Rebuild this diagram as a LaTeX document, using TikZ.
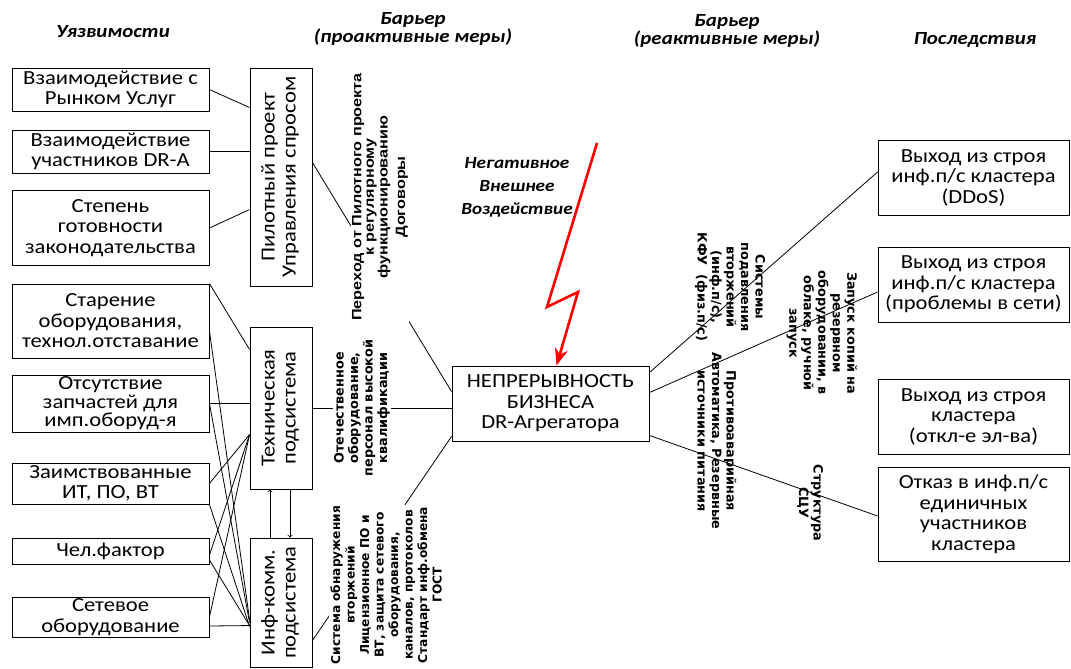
\documentclass[tikz,border=0pt]{standalone}
\usepackage{fontspec}
\setmainfont{Carlito}[FakeStretch=1.13]
\newfontfamily\arialfont{Liberation Sans}[FakeStretch=1.2]
\newfontfamily\dejafont{DejaVu Sans}
\usetikzlibrary{arrows.meta}
\usetikzlibrary{calc}
\tikzstyle{vuln} = [rectangle, draw=black, line width=0.9pt, minimum width=197pt,
                    inner sep=0pt, align=center, font=\fontsize{20}{20.5}\selectfont]
\tikzstyle{subsys} = [rectangle, draw=black, line width=0.9pt, minimum width=62pt,
                      inner sep=0pt, font=\fontsize{20}{21}\selectfont]
\tikzstyle{core} = [rectangle, draw=black, line width=0.9pt, minimum width=197pt,
                    minimum height=75pt, inner sep=0pt, align=center, font=\fontsize{20}{20.5}\selectfont]
\tikzstyle{cons} = [rectangle, draw=black, line width=0.9pt, minimum width=191pt,
                    inner sep=0pt, align=center, font=\fontsize{20}{20.5}\selectfont]
\tikzstyle{head} = [align=center, inner sep=0pt, font=\fontsize{18.5}{18}\selectfont\bfseries\itshape]
\tikzstyle{measure} = [align=center, inner sep=1pt, font=\dejafont\bfseries\fontsize{12.8}{14.5}\selectfont]
\tikzstyle{measurea} = [align=center, inner sep=1pt, font=\arialfont\bfseries\fontsize{13.5}{12.5}\selectfont]
\tikzstyle{link} = [line width=0.8pt]
\newcommand{\uptext}[1]{\rotatebox{90}{\begin{tabular}{@{}c@{}}#1\end{tabular}}}

\begin{document}
\begin{tikzpicture}[x=1pt,y=-1pt]
    \useasboundingbox (0,0) rectangle (1071,669);
    % column heads
    \node[head] (hvuln) at (113,32) {Уязвимости};
    \node[head] (hpro) at (413,29) {Барьер\\(проактивные меры)};
    \node[head] (hre) at (727,31) {Барьер\\(реактивные меры)};
    \node[head] (hcons) at (975,40) {Последствия};
    % vulnerabilities
    \node[vuln, minimum height=43pt] (market) at (110.5,89.5) {Взаимодействие с\\Рынком Услуг};
    \node[vuln, minimum height=43pt] (members) [below of=market,node distance=62pt] {Взаимодействие\\участников DR-A};
    \node[vuln, minimum height=75pt] (law) [below of=members,node distance=76.5pt] {Степень\\готовности\\законодательства};
    \node[vuln, minimum height=74pt] (aging) [below of=law,node distance=93pt] {Старение\\оборудования,\\технол.отставание};
    \node[vuln, minimum height=57pt, font=\fontsize{20}{18.5}\selectfont] (parts) [below of=aging,node distance=82.5pt] {Отсутствие\\запчастей для\\имп.оборуд-я};
    \node[vuln, minimum height=41pt] (borrowed) [below of=parts,node distance=80pt] {Заимствованные\\ИТ, ПО, ВТ};
    \node[vuln, minimum height=26pt] (human) [below of=borrowed,node distance=67.5pt] {Чел.фактор};
    \node[vuln, minimum height=40pt] (network) [below of=human,node distance=66pt] {Сетевое\\оборудование};
    % subsystems
    \node[subsys, minimum height=218pt] (pilot) at (281,177) {\uptext{Пилотный проект\\Управления спросом}};
    \node[subsys, minimum height=162pt] (tech) [below of=pilot,node distance=231pt] {\uptext{Техническая\\подсистема}};
    \node[subsys, minimum height=129pt] (ict) [below of=tech,node distance=194.5pt] {\uptext{Инф-комм.\\подсистема}};
    % business continuity
    \node[core] (cont) at (550.5,403.5) {НЕПРЕРЫВНОСТЬ\\БИЗНЕСА\\DR-Агрегатора};
    % consequences
    \node[cons, minimum height=75pt] (ddos) at (973.5,177.5) {Выход из строя\\инф.п/с кластера\\(DDoS)};
    \node[cons, minimum height=75pt] (netfail) [below of=ddos,node distance=107pt] {Выход из строя\\инф.п/с кластера\\(проблемы в сети)};
    \node[cons, minimum height=75pt] (power) [below of=netfail,node distance=132pt] {Выход из строя\\кластера\\(откл-е эл-ва)};
    \node[cons, minimum height=94pt] (single) [below of=power,node distance=97.5pt] {Отказ в инф.п/с\\единичных\\участников\\кластера};

    % vulnerabilities -> subsystems
    \draw[link] (market.east) -- ($(pilot.north west)+(0,40)$);
    \draw[link] (members.east) -- (members.east -| pilot.west);
    \draw[link] (law.east) -- ($(pilot.north west)+(0,142)$);
    \draw[link] (aging.north east) -- ($(tech.north west)+(0,23)$);
    \draw[link] ($(aging.east)+(0,10)$) -- ($(ict.north west)+(0,82)$);
    \draw[link] (parts.east) -- (parts.east -| tech.west);
    \draw[link] (parts.east) -- ($(ict.north west)+(0,85)$);
    \draw[link] (borrowed.east) -- ($(tech.north west)+(0,108)$);
    \draw[link] (borrowed.south east) -- ($(ict.north west)+(0,89)$);
    \draw[link] ($(human.east)+(0,4)$) -- ($(tech.north west)+(0,108)$);
    \draw[link] ($(human.east)+(0,9)$) -- ($(ict.north west)+(0,88)$);
    \draw[link] (network.east) -- ($(tech.north west)+(0,108)$);
    \draw[link] ($(network.east)+(0,9)$) -- ($(ict.north west)+(0,88)$);
    \draw[link,-to] ($(ict.north)+(-11,0)$) -- ($(tech.south)+(-11,0)$);
    \draw[link,-to] ($(tech.south)+(9,0)$) -- ($(ict.north)+(9,0)$);

    % proactive barriers
    \draw[link] ($(pilot.north east)+(0,95)$) -- ($(cont.north west)+(0,26)$);
    \draw[link] (tech.east) -- (tech.east -| cont.west);
    \draw[link] ($(ict.south east)+(0,-27)$) -- ($(cont.south west)+(0,-5)$);
    \node[measurea, rotate=90, fill=white] (transfer) at (380,197) {Переход от Пилотного проекта\\к регулярному\\функционированию\\[5pt]Договоры};
    \node[measure, rotate=90, fill=white] (domestic) at (362,408) {Отечественное\\оборудование,\\персонал высокой\\квалификации};
    \node[measure, rotate=90, fill=white, font=\dejafont\bfseries\fontsize{12.2}{14.5}\selectfont] (detect) at (386,585) {Система обнаружения\\вторжений\\Лицензионное ПО и\\ВТ, защита сетевого\\оборудования,\\каналов, протоколов\\Стандарт инф.обмена\\ГОСТ};

    % reactive barriers
    \draw[link] ($(cont.east)+(0,9.5)$) -- ($(cont.east)+(0,9.5)$ -| power.west);
    \node[measure, rotate=-90, fill=white] (backup) at (822,333) {Запуск копий на\\резервном\\оборудовании, в\\облаке, ручной\\запуск};
    \draw[link] ($(cont.north east)+(0,7)$) -- ($(ddos.west)+(0,-5.5)$);
    \draw[link] ($(cont.north east)+(0,27)$) -- ($(netfail.west)+(0,7.5)$);
    \draw[link] ($(cont.south east)+(0,-6)$) -- ($(single.west)+(0,2)$);
    \node[measure, rotate=-90] (suppress) at (730,287) {Системы\\подавления\\вторжений\\(инф.п/с),\\КФУ\ \ (физ.п/с)};
    \node[measure, rotate=-90] (emergency) at (717,441) {Противоаварийная\\Автоматика, Резервные\\источники питания};
    \node[measure, rotate=-90] (scu) at (810,503) {Структура\\СЦУ};

    % external impact
    \node[head, font=\fontsize{17}{23}\selectfont\bfseries\itshape] (impact) at (517,187) {Негативное\\Внешнее\\Воздействие};
    \coordinate (strike) at (597,143);
    \draw[red, line width=2.6pt, line join=miter, -{Stealth[length=17pt,width=13pt]}]
        (strike) -- (547,307) -- (578,292) -- ($(cont.north west)+(105,0)$);
\end{tikzpicture}
\end{document}
